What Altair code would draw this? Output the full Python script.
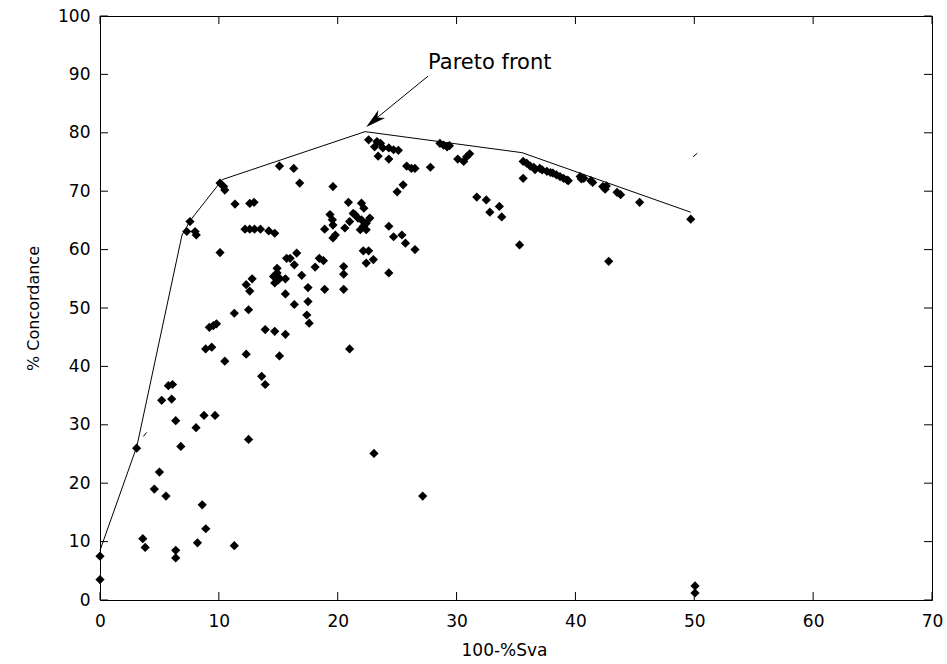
import altair as alt
import pandas as pd

# scatter points (100-%Sva, % Concordance)
pts_x = [0, 0, 3.6, 3.8, 4.57, 5.0, 5.55, 6.37, 6.37, 8.2, 8.6, 8.9, 11.3,
         3.08, 5.19, 6.03, 5.75, 6.1, 6.37, 6.8, 8.08, 8.75, 9.68,
         8.89, 9.4, 9.2, 9.54, 9.8, 10.1, 10.5, 11.3, 12.5, 12.3, 12.5,
         12.3, 12.6, 12.8, 13.6, 13.9, 13.9, 14.7, 15.6, 15.1,
         14.6, 14.9, 15.0, 14.7, 15.1, 14.9,
         15.6, 15.6, 15.7, 16.0, 16.35, 16.55, 16.35, 16.97, 17.5, 17.5, 17.4, 17.6,
         18.1, 18.45, 18.8, 18.9, 20.5, 20.5, 20.5, 21.0,
         10.1, 10.4, 10.5, 7.57, 7.3, 8.0, 8.1, 11.36, 12.6, 12.96,
         12.2, 12.6, 13.0, 13.5, 14.2, 14.7,
         15.1, 16.3, 16.8, 19.6, 20.9, 22.0, 22.2,
         19.35, 19.55, 19.6, 18.9, 19.8, 19.6, 20.6, 21.0, 21.45, 21.7, 22.15, 22.4,
         22.15, 22.6, 21.9, 22.4, 22.7, 22.0, 21.3,
         22.4, 23.0, 24.3,
         22.6, 23.3, 23.6, 23.1, 23.8, 24.3, 24.7, 25.1, 23.4, 24.3,
         28.6, 28.9, 29.2, 29.4, 30.1, 30.6, 30.85, 31.1,
         25.8, 26.2, 26.5, 27.8, 25.5, 25.0,
         31.7, 32.5, 33.6, 32.8, 33.8, 35.3, 35.6,
         24.3, 24.7, 25.4, 25.7, 26.5,
         23.05, 27.15, 50.06, 50.06, 42.8, 49.7,
         35.6, 35.9, 36.2, 36.5, 36.6, 37.0, 37.2, 37.6, 37.9, 38.1, 38.4, 38.7, 39.0, 39.3, 39.4,
         40.4, 40.5, 40.7, 41.3, 41.45, 42.3, 42.5, 42.6, 43.5, 43.8, 45.4]
pts_y = [7.5, 3.5, 10.5, 9.0, 19.0, 21.9, 17.8, 8.5, 7.2, 9.8, 16.3, 12.2, 9.3,
         26.0, 34.2, 34.4, 36.7, 36.9, 30.7, 26.3, 29.5, 31.6, 31.6,
         43.0, 43.3, 46.7, 47.0, 47.3, 59.5, 40.9, 49.1, 49.7, 42.1, 27.5,
         54.0, 52.9, 55.0, 38.3, 36.9, 46.3, 46.0, 45.5, 41.8,
         55.4, 56.0, 54.8, 54.3, 55.1, 56.8,
         55.0, 52.4, 58.5, 58.5, 57.4, 59.4, 50.6, 55.6, 53.5, 51.1, 48.8, 47.4,
         57.0, 58.5, 58.1, 53.2, 57.1, 55.8, 53.2, 43.0,
         71.4, 70.8, 70.2, 64.8, 63.1, 63.1, 62.5, 67.8, 67.9, 68.1,
         63.5, 63.5, 63.5, 63.5, 63.2, 62.8,
         74.3, 73.9, 71.4, 70.8, 68.1, 67.95, 67.1,
         66.0, 65.1, 64.2, 63.5, 62.5, 62.0, 63.7, 64.8, 66.0, 65.4, 64.0, 63.4,
         59.8, 59.8, 63.4, 64.5, 65.4, 65.1, 66.2,
         57.7, 58.3, 56.0,
         78.8, 78.5, 78.2, 77.6, 77.4, 77.4, 77.1, 77.0, 76.0, 75.5,
         78.2, 77.9, 77.6, 77.8, 75.5, 75.1, 75.9, 76.4,
         74.3, 73.9, 73.9, 74.1, 71.1, 69.9,
         69.0, 68.5, 67.4, 66.4, 65.6, 60.8, 72.2,
         64.0, 62.2, 62.5, 61.1, 60.0,
         25.1, 17.8, 2.4, 1.2, 58.0, 65.2,
         75.1, 74.8, 74.3, 74.1, 73.7, 73.9, 73.65, 73.4, 73.2, 73.1, 72.8, 72.5, 72.2, 71.9, 71.8,
         72.5, 72.1, 72.2, 71.8, 71.5, 70.8, 70.35, 70.9, 69.8, 69.4, 68.1]

# Pareto front polyline
front_x = [0, 3.1, 6.9, 7.6, 10.3, 22.3, 35.5, 49.7]
front_y = [8.5, 26.3, 62.5, 65.0, 72.0, 80.2, 76.6, 66.4]

# small stray line fragments
frag_x = [3.64, 3.93, 49.9, 50.25]
frag_y = [28.0, 28.7, 75.9, 76.5]
frag_g = ["a", "a", "b", "b"]

# annotation arrow
arrow_x = [27.6, 22.6]
arrow_y = [89.7, 81.4]
head_x = [22.4]
head_y = [81.0]
label_x = [27.6]
label_y = [91.9]
label_text = ["Pareto front"]

# axis ticks
ticks_x = list(range(0, 71, 10))
ticks_y = list(range(0, 101, 10))

FONT = "DejaVu Sans"
W, H, TL = 832, 584, 8
XMAX, YMAX = 70, 100
TLX = TL * XMAX / W   # tick length in x units
TLY = TL * YMAX / H   # tick length in y units

pts = pd.DataFrame({"x": pts_x, "y": pts_y})
front = pd.DataFrame({"x": front_x, "y": front_y, "i": range(len(front_x))})
frag = pd.DataFrame({"x": frag_x, "y": frag_y, "g": frag_g})
arrow = pd.DataFrame({"x": arrow_x, "y": arrow_y, "i": [0, 1]})
head = pd.DataFrame({"x": head_x, "y": head_y})
lab = pd.DataFrame({"x": label_x, "y": label_y, "t": label_text})

# inward tick segments built from the tick arrays
trows = []
for v in ticks_x:
    trows += [(v, 0, f"b{v}"), (v, TLY, f"b{v}"), (v, YMAX, f"t{v}"), (v, YMAX - TLY, f"t{v}")]
for v in ticks_y:
    trows += [(0, v, f"l{v}"), (TLX, v, f"l{v}"), (XMAX, v, f"r{v}"), (XMAX - TLX, v, f"r{v}")]
tk = pd.DataFrame(trows, columns=["x", "y", "g"])

xs = alt.Scale(domain=[0, XMAX], nice=False, zero=False)
ys = alt.Scale(domain=[0, YMAX], nice=False, zero=False)

common = dict(domain=False, grid=False, ticks=False, labelFont=FONT, labelFontSize=17,
              labelColor="black", labelFlush=False, labelOverlap=False)

xb = alt.Axis(orient="bottom", values=ticks_x, labelPadding=13, title="100-%Sva",
              titleFont=FONT, titleFontSize=17, titleFontWeight="normal", titleColor="black",
              titlePadding=13, titleX=404, **common)
yl = alt.Axis(orient="left", values=ticks_y, labelPadding=10, title="% Concordance",
              titleFont=FONT, titleFontSize=16, titleFontWeight="normal", titleColor="black",
              titlePadding=16, **common)

X = alt.X("x:Q", scale=xs, axis=xb)
Y = alt.Y("y:Q", scale=ys, axis=yl)

points = alt.Chart(pts).mark_point(shape="diamond", filled=True, size=85, color="black",
                                   opacity=1).encode(x=X, y=Y)

front_line = alt.Chart(front).mark_line(color="black", strokeWidth=1).encode(
    x=X, y=Y, order="i:Q")

frags = alt.Chart(frag).mark_line(color="black", strokeWidth=1).encode(
    x=X, y=Y, detail="g:N")

tick_lines = alt.Chart(tk).mark_line(color="black", strokeWidth=1).encode(
    x=X, y=Y, detail="g:N")

arrow_line = alt.Chart(arrow).mark_line(color="black", strokeWidth=1).encode(
    x=X, y=Y, order="i:Q")

arrow_head = alt.Chart(head).mark_point(
    shape="M0,0 L0.42,1.6 L0,1.15 L-0.42,1.6 Z", filled=True, size=640,
    angle=230, color="black", opacity=1, strokeWidth=0.5,
).encode(x=X, y=Y)

label = alt.Chart(lab).mark_text(align="left", baseline="middle", font=FONT,
                                 fontSize=21, color="black").encode(
    x=X, y=Y, text="t:N")

chart = alt.layer(points, front_line, frags, tick_lines, arrow_line, arrow_head, label).properties(
    width=W, height=H,
    autosize=alt.AutoSizeParams(type="none"),
    padding={"left": 100, "top": 16, "right": 15, "bottom": 64},
    background="white",
).configure_view(stroke="black", strokeWidth=1)

chart.save("out.html", embed_options={"renderer": "svg", "actions": False})
